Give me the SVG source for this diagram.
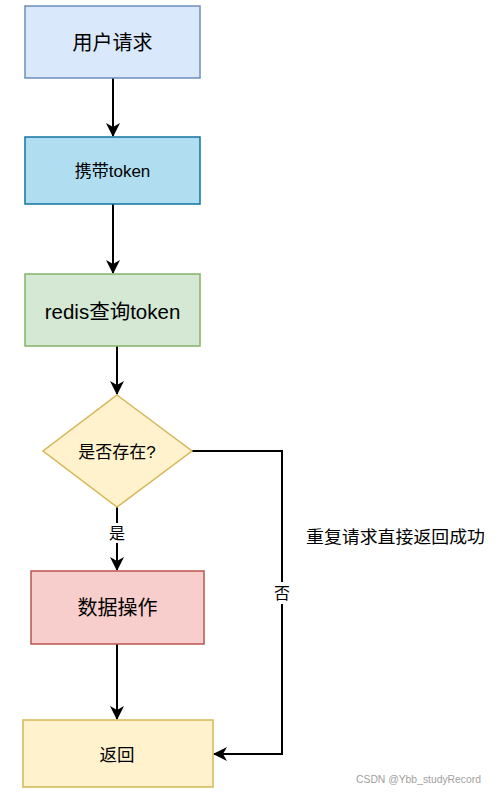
<svg xmlns="http://www.w3.org/2000/svg" width="496" height="794" viewBox="0 0 496 794">
<style>
text{font-family:"Liberation Sans","Noto Sans CJK SC",sans-serif;fill:#000;text-anchor:middle;dominant-baseline:central}
.n{stroke-width:1.5}
.c{fill:none;stroke:#000;stroke-width:2}
</style>
<defs>
<marker id="a" viewBox="0 0 14 14" refX="13" refY="7" markerWidth="14" markerHeight="14" markerUnits="userSpaceOnUse" orient="auto">
<path d="M0,0 L14,7 L0,14 L4,7 Z" fill="#000"/>
</marker>
</defs>
<rect width="496" height="794" fill="#fff"/>
<g id="connectors">
<path class="c" d="M113,78 V136" marker-end="url(#a)"/>
<path class="c" d="M113,204 V273" marker-end="url(#a)"/>
<path class="c" d="M117,346 V394" marker-end="url(#a)"/>
<path class="c" d="M117,507 V570" marker-end="url(#a)"/>
<path class="c" d="M117,644 V719" marker-end="url(#a)"/>
<path class="c" d="M192,451 H282 V754 H214" marker-end="url(#a)"/>
<rect x="108" y="523" width="18" height="20" fill="#fff"/>
<text x="117" y="533" font-size="16">是</text>
<rect x="273" y="582" width="18" height="22" fill="#fff"/>
<text x="282" y="593" font-size="16">否</text>
</g>
<g id="n1"><rect class="n" x="25" y="6" width="175" height="72" fill="#dae8fc" stroke="#6c8ebf"/><text x="112.5" y="43" font-size="20">用户请求</text></g>
<g id="n2"><rect class="n" x="25" y="137" width="175" height="67" fill="#b1ddf0" stroke="#10739e"/><text x="112.5" y="171" font-size="17">携带token</text></g>
<g id="n3"><rect class="n" x="25" y="274" width="175" height="72" fill="#d5e8d4" stroke="#82b366"/><text x="112.5" y="311" font-size="20.5">redis查询token</text></g>
<g id="n4"><path class="n" d="M117,395 L192,451 L117,507 L43,451 Z" fill="#fff2cc" stroke="#d6b656"/><text x="117" y="452" font-size="17">是否存在?</text></g>
<g id="n5"><rect class="n" x="31" y="571" width="173" height="73" fill="#f8cecc" stroke="#b85450"/><text x="117.5" y="608" font-size="20">数据操作</text></g>
<g id="n6"><rect class="n" x="23" y="720" width="190" height="67" fill="#fff2cc" stroke="#d6b656"/><text x="117" y="755" font-size="17.5">返回</text></g>
<text x="395.5" y="537" font-size="17" textLength="179" lengthAdjust="spacingAndGlyphs">重复请求直接返回成功</text>
<text x="418.5" y="779" font-size="11" style="fill:#a0a0a0" textLength="125" lengthAdjust="spacingAndGlyphs">CSDN @Ybb_studyRecord</text>
</svg>
